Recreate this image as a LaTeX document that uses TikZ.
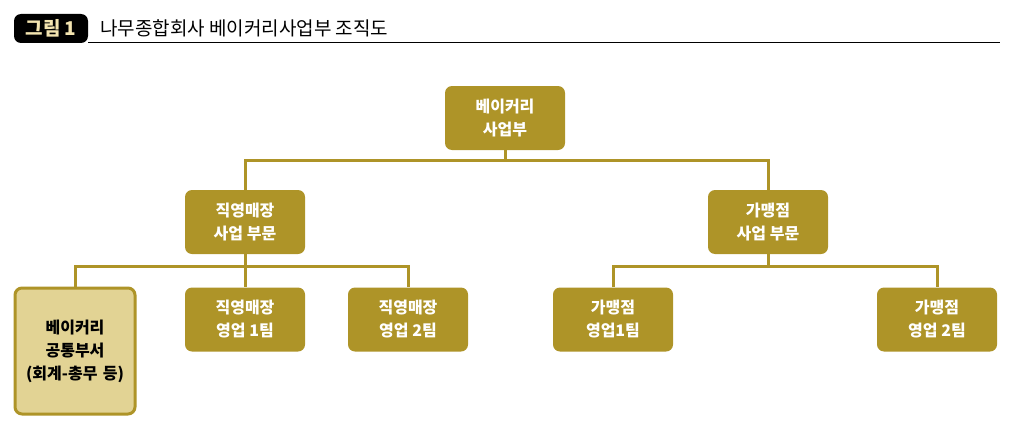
\documentclass[tikz,border=0pt]{standalone}
\usepackage{fontspec}
\setmainfont{Noto Sans CJK KR}
\begin{document}
\begin{tikzpicture}[x=1pt,y=-1pt,
  box/.style={fill=gold,draw=none,rounded corners=7pt,minimum width=120pt,minimum height=64pt,text=white,font=\fontsize{16}{23}\selectfont\bfseries,align=center,inner sep=0pt},
  link/.style={draw=gold,line width=3pt}]
\definecolor{gold}{HTML}{AE9428}
\definecolor{pale}{HTML}{E2D394}
\definecolor{badgetext}{HTML}{F3E4B0}
\useasboundingbox (0,0) rectangle (1024,444);
\fill[black,rounded corners=7pt] (14,14) rectangle (88,43);
\node (badge) at (51,28.5) {\textcolor{badgetext}{\fontsize{19}{20}\selectfont\bfseries 그림 1}};
\node[anchor=west,inner sep=0pt] (title) at (100,28) {\fontsize{19}{20}\selectfont 나무종합회사 베이커리사업부 조직도};
\draw[line width=1pt] (88,43) -- (1000,43);
\node[box] (root) at (505,118) {베이커리\\사업부};
\node[box] (dl) at (245,222) {직영매장\\사업 부문};
\node[box] (fr) at (768,222) {가맹점\\사업 부문};
\node[box] (d1) at (245,319.5) {직영매장\\영업 1팀};
\node[box] (d2) at (408,319.5) {직영매장\\영업 2팀};
\node[box] (f1) at (613,319.5) {가맹점\\영업1팀};
\node[box] (f2) at (937,319.5) {가맹점\\영업 2팀};
\node[box,fill=pale,draw=gold,line width=3pt,text=black,minimum width=120pt,minimum height=126pt,text width=118pt] (cm) at (75,351) {베이커리\\공통부서\\(회계-총무 등)};
\coordinate (h1) at (505,160);
\coordinate (h2) at (245,266);
\coordinate (h3) at (768,266);
\draw[link] (root.south) -- (h1);
\draw[link] (dl.north) |- (h1) -| (fr.north);
\draw[link] (dl.south) -- (h2);
\draw[link] (cm.north) |- (h2) -| (d2.north);
\draw[link] (h2) -- (d1.north);
\draw[link] (fr.south) -- (h3);
\draw[link] (f1.north) |- (h3) -| (f2.north);
\end{tikzpicture}
\end{document}
